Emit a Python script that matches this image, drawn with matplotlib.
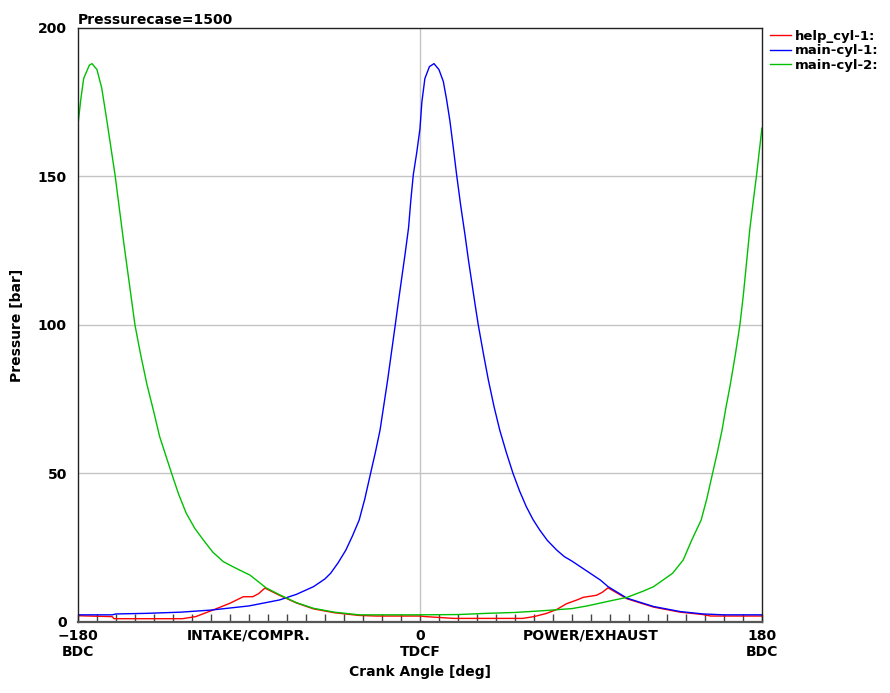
import numpy as np
import matplotlib
matplotlib.use('Agg')
import matplotlib.pyplot as plt
from matplotlib.ticker import MultipleLocator

# values (crank angle in deg, pressure in bar)
help_angle = [-180, -162, -161, -125, -118, -109, -100, -96.5, -93, -88, -85, -81.6,
              -74, -65, -56, -45, -32, -23, 0, 3, 18, 54, 60, 66.7, 72, 77, 83, 86,
              93, 96, 99, 109, 123, 137, 149, 153, 180]
help_p = [2.1, 1.8, 1.1, 1.1, 1.8, 4.0, 6.3, 7.4, 8.5, 8.5, 9.5, 11.4,
          9.0, 6.4, 4.4, 3.1, 2.2, 2.0, 2.0, 1.8, 1.2, 1.2, 1.8, 2.9, 4.2, 6.1, 7.5, 8.3,
          9.0, 10.0, 11.5, 7.8, 5.0, 3.3, 2.5, 2.0, 2.0]

main1_angle = [-180, -162, -160, -144, -126, -110, -90, -74, -65, -56, -50, -47, -43,
               -39, -35.5, -32, -29, -26, -23.5, -21, -17, -13, -11.3, -9.6, -7.8, -6,
               -4.8, -3.5, -1.7, 0, 1, 2.6, 5, 7.4, 10, 12.3, 14, 15.8, 17.5, 19.3, 21.5,
               23.7, 25.5, 27.2, 29, 30.7, 33.5, 36, 39, 42, 45.5, 49, 52.5, 56, 59.5, 63,
               67, 72, 76, 80, 91, 95, 99, 109, 123, 137, 149, 160, 180]
main1_p = [2.4, 2.4, 2.7, 2.9, 3.3, 4.0, 5.4, 7.4, 9.3, 11.9, 14.5, 16.4, 20,
           24.2, 29, 34.3, 41.5, 50, 57, 64.6, 81.5, 100, 108, 115.8, 124, 132.7,
           142, 150.6, 158, 166, 175, 183, 187, 188, 186, 182, 176, 168.6, 160, 150.6, 140,
           130.4, 122, 114.7, 107, 100, 90, 81.5, 72.5, 64.6, 57, 50, 44, 38.8, 34.5, 31,
           27.5, 24.2, 22, 20.5, 15.8, 14.1, 11.9, 8.0, 5.2, 3.5, 2.7, 2.4, 2.4]

main2_angle = [-180, -178.5, -177, -174, -172.6, -170, -167.5, -165, -160.5, -156, -150,
               -147, -143.7, -140, -137, -130.7, -127, -123, -118.5, -114, -109, -103.5,
               -99, -95, -89.5, -81, -74, -65, -56, -45, -32, 0, 20, 35, 50, 65, 80, 88,
               98, 109, 118, 123, 133, 138.6, 143, 148, 151, 154, 156.5, 159, 161, 163.2,
               166, 168.4, 170.2, 173.7, 175.5, 177.2, 180]
main2_p = [167.4, 176, 183, 187.5, 188, 186, 179.8, 169.7, 150.6, 128.2, 100,
           90, 80, 70.5, 62.4, 50, 43, 36.6, 31.5, 27.6, 23.5, 20.3,
           18.8, 17.5, 15.8, 11.5, 9.2, 6.5, 4.6, 3.3, 2.4, 2.4, 2.5, 2.9, 3.2, 3.8, 4.5, 5.4,
           6.8, 8.3, 10.5, 11.9, 16.4, 20.9, 27.5, 34.3, 41.5, 50, 57, 64.6, 72, 79.4,
           90, 100, 110, 132.7, 142, 150.6, 166.3]

x_tick_pos = [-180, -90, 0, 90, 180]
x_tick_labels = ['\u2212180\nBDC', 'INTAKE/COMPR.', '0\nTDCF', 'POWER/EXHAUST', '180\nBDC']
y_ticks = [0, 50, 100, 150, 200]

fig = plt.figure(figsize=(8.9, 6.93), dpi=100)
ax = fig.add_axes([0.0876, 0.1025, 0.7685, 0.8571])

ax.plot(help_angle, help_p, color='#ff0000', lw=1.0, label='help_cyl-1:')
ax.plot(main1_angle, main1_p, color='#0000ff', lw=1.0, label='main-cyl-1:')
ax.plot(main2_angle, main2_p, color='#00c000', lw=1.0, label='main-cyl-2:')

ax.set_xlim(-180, 180)
ax.set_ylim(0, 200)
ax.set_xticks(x_tick_pos)
ax.set_xticklabels(x_tick_labels, fontsize=10, fontweight='bold')
ax.xaxis.set_minor_locator(MultipleLocator(10))
ax.tick_params(axis='x', which='both', direction='in', length=6, width=1, color='#444444', pad=5)
ax.set_yticks(y_ticks)
ax.set_yticklabels([str(v) for v in y_ticks], fontsize=10, fontweight='bold')
ax.tick_params(axis='y', length=0, pad=8)

ax.grid(False)
for v in y_ticks[1:-1]:
    ax.axhline(v, color='#c4c4c4', lw=1.0, zorder=0)
ax.axvline(0, color='#c4c4c4', lw=1.0, zorder=0)

for s in ['top', 'right', 'left']:
    ax.spines[s].set_color('#222222')
    ax.spines[s].set_linewidth(1.0)
ax.spines['bottom'].set_color('#555555')
ax.spines['bottom'].set_linewidth(1.6)

ax.set_xlabel('Crank Angle [deg]', fontsize=10, fontweight='bold', labelpad=4)
ax.set_ylabel('Pressure [bar]', fontsize=10, fontweight='bold', labelpad=10)
ax.set_title('Pressurecase=1500', loc='left', fontsize=10, fontweight='bold', pad=3)

leg = ax.legend(loc='upper left', bbox_to_anchor=(1.0, 1.01), frameon=False,
                handlelength=1.6, handletextpad=0.3, labelspacing=0.1,
                prop={'weight': 'bold', 'size': 9.5}, borderaxespad=0.2)

fig.savefig('out.png', dpi=100)
